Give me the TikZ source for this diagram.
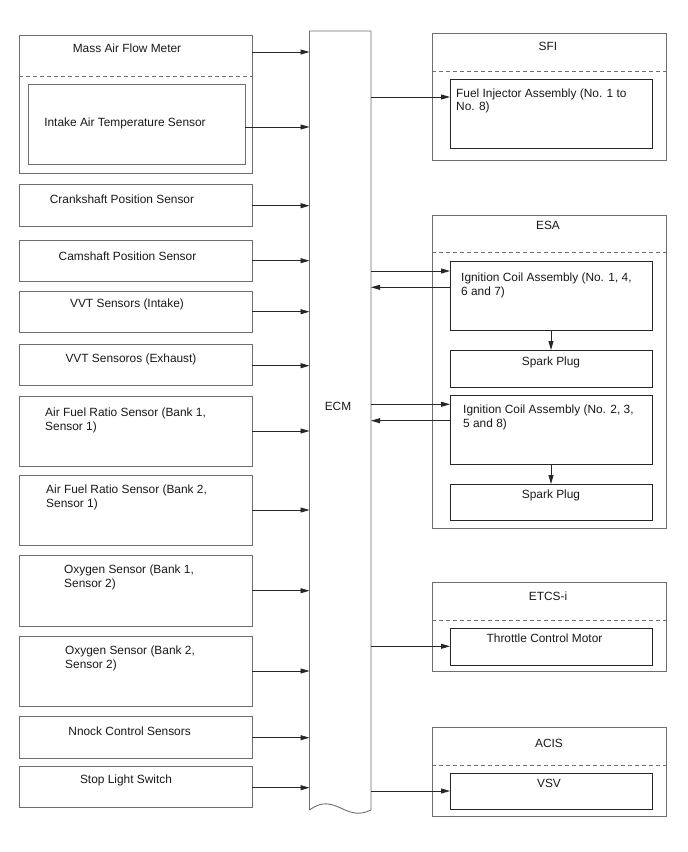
\documentclass[tikz,border=0pt]{standalone}
\usepackage{fontspec}
\setmainfont{Liberation Sans}
\usetikzlibrary{arrows.meta}
\definecolor{boxgray}{HTML}{6E6E6E}
\newcommand\bx[6]{\node[#6, anchor=north west, minimum width={#4-#2}, minimum height={#5-#3}] (#1) at (#2,#3) {};}
\begin{document}
\begin{tikzpicture}[x=1pt,y=-1pt,
  every node/.style={font=\fontsize{11.9pt}{13.6pt}\selectfont},
  outerbox/.style={draw=boxgray, line width=0.9pt, inner sep=0pt, outer sep=0pt},
  innerbox/.style={draw=black!85, line width=1.0pt, inner sep=0pt, outer sep=0pt},
  txt/.style={inner sep=0pt, text height=8.6pt, text depth=0pt, text=black!90},
  mtxt/.style={inner sep=0pt, align=left, anchor=north west, text=black!90},
  dashsep/.style={draw=boxgray, line width=0.8pt, dash pattern=on 4pt off 3pt},
  arr/.style={draw=black!85, line width=0.8pt, -{Triangle[length=9pt,width=5pt]}}]
\useasboundingbox (0,0) rectangle (688,852);

% ---------------- ECM ----------------
\node[inner sep=0pt, outer sep=0pt, minimum width=61.5, minimum height=779, anchor=north west] (ecm) at (309.5,31) {};
\draw[boxgray, line width=0.9pt] (ecm.south west) -- (ecm.north west) -- (ecm.north east) -- (ecm.south east)
  .. controls (345,823) and (335,791) .. (ecm.south west);
\node[txt] (ecmt) at (338,406) {ECM};

% ---------------- Left inputs ----------------
\bx{maf}{19}{35}{252}{173}{outerbox}
\draw[dashsep] (maf.west |- 0,76) -- (maf.east |- 0,76);
\node[txt] (maft) at (127,48) {Mass Air Flow Meter};
\bx{iat}{28.7}{84}{245}{164}{outerbox}
\node[txt] (iatt) at (125,122) {Intake Air Temperature Sensor};

\bx{ckp}{19}{184.3}{252}{226.7}{outerbox}
\node[txt] (ckpt) at (122,199) {Crankshaft Position Sensor};
\bx{cmp}{19}{240}{252}{281.7}{outerbox}
\node[txt] (cmpt) at (127.5,256) {Camshaft Position Sensor};
\bx{vvti}{19}{291}{252}{332}{outerbox}
\node[txt] (vvtit) at (127,303) {VVT Sensors (Intake)};
\bx{vvte}{19}{344}{252}{385.7}{outerbox}
\node[txt] (vvtet) at (131,357.7) {VVT Sensoros (Exhaust)};
\bx{afa}{19}{396}{252}{466}{outerbox}
\node[mtxt] (afat) at (45,408) {Air Fuel Ratio Sensor (Bank 1,\\Sensor 1)};
\bx{afb}{19}{475.7}{252}{545.7}{outerbox}
\node[mtxt] (afbt) at (46,484.7) {Air Fuel Ratio Sensor (Bank 2,\\Sensor 1)};
\bx{oxa}{19}{555.7}{252}{626}{outerbox}
\node[mtxt] (oxat) at (64,564.7) {Oxygen Sensor (Bank 1,\\Sensor 2)};
\bx{oxb}{19}{636.7}{252}{706}{outerbox}
\node[mtxt] (oxbt) at (65,645.7) {Oxygen Sensor (Bank 2,\\Sensor 2)};
\bx{kns}{19}{716.7}{252}{758}{outerbox}
\node[txt] (knst) at (129.6,731) {Nnock Control Sensors};
\bx{stp}{19}{766.7}{252}{807.7}{outerbox}
\node[txt] (stpt) at (126,779) {Stop Light Switch};

% input arrows
\foreach \b/\y in {maf/52, iat/127, ckp/205.7, cmp/260.7, vvti/311.7, vvte/365.7, afa/431, afb/510, oxa/590.7, oxb/671, kns/737.7, stp/787.7}{
  \coordinate (y-\b) at (0,\y);
  \draw[arr] (\b.east |- y-\b) -- (ecm.west |- y-\b);
}

% ---------------- SFI ----------------
\bx{sfi}{432}{33}{666}{160}{outerbox}
\draw[dashsep] (sfi.west |- 0,71) -- (sfi.east |- 0,71);
\node[txt] (sfit) at (548,46) {SFI};
\bx{fia}{450}{79}{652}{148}{innerbox}
\node[mtxt] (fiat) at (456,88.5) {Fuel Injector Assembly (No. 1 to\\No. 8)};
\coordinate (y-fia) at (0,97);
\draw[arr] (ecm.east |- y-fia) -- (fia.west |- y-fia);

% ---------------- ESA ----------------
\bx{esa}{432}{215}{666}{528.3}{outerbox}
\draw[dashsep] (esa.west |- 0,252) -- (esa.east |- 0,252);
\node[txt] (esat) at (548,225) {ESA};
\bx{ica}{450}{261}{652}{330}{innerbox}
\node[mtxt] (icat) at (461,272.7) {Ignition Coil Assembly (No. 1, 4,\\6 and 7)};
\bx{spa}{450}{350}{652}{387}{innerbox}
\node[txt] (spat) at (551,361) {Spark Plug};
\bx{icb}{450}{395}{652}{464.3}{innerbox}
\node[mtxt] (icbt) at (463,404.7) {Ignition Coil Assembly (No. 2, 3,\\5 and 8)};
\bx{spb}{450}{484}{652}{520.7}{innerbox}
\node[txt] (spbt) at (551,494) {Spark Plug};
\coordinate (y-ica1) at (0,271);
\coordinate (y-ica2) at (0,287.3);
\coordinate (y-icb1) at (0,404.3);
\coordinate (y-icb2) at (0,420.7);
\draw[arr] (ecm.east |- y-ica1) -- (ica.west |- y-ica1);
\draw[arr] (ica.west |- y-ica2) -- (ecm.east |- y-ica2);
\draw[arr] (ecm.east |- y-icb1) -- (icb.west |- y-icb1);
\draw[arr] (icb.west |- y-icb2) -- (ecm.east |- y-icb2);
\draw[arr] (ica.south) -- (spa.north);
\draw[arr] (icb.south) -- (spb.north);

% ---------------- ETCS-i ----------------
\bx{etc}{432}{582.3}{666}{671}{outerbox}
\draw[dashsep] (etc.west |- 0,620.3) -- (etc.east |- 0,620.3);
\node[txt] (etct) at (548,596) {ETCS-i};
\bx{tcm}{450}{628.3}{652}{665}{innerbox}
\node[txt] (tcmt) at (544.5,638.3) {Throttle Control Motor};
\coordinate (y-tcm) at (0,646.3);
\draw[arr] (ecm.east |- y-tcm) -- (tcm.west |- y-tcm);

% ---------------- ACIS ----------------
\bx{acis}{432}{727.3}{666}{816.7}{outerbox}
\draw[dashsep] (acis.west |- 0,765) -- (acis.east |- 0,765);
\node[txt] (acist) at (549,743.3) {ACIS};
\bx{vsv}{450}{773.3}{652}{809.3}{innerbox}
\node[txt] (vsvt) at (549,783.3) {VSV};
\coordinate (y-vsv) at (0,791);
\draw[arr] (ecm.east |- y-vsv) -- (vsv.west |- y-vsv);
\end{tikzpicture}
\end{document}
